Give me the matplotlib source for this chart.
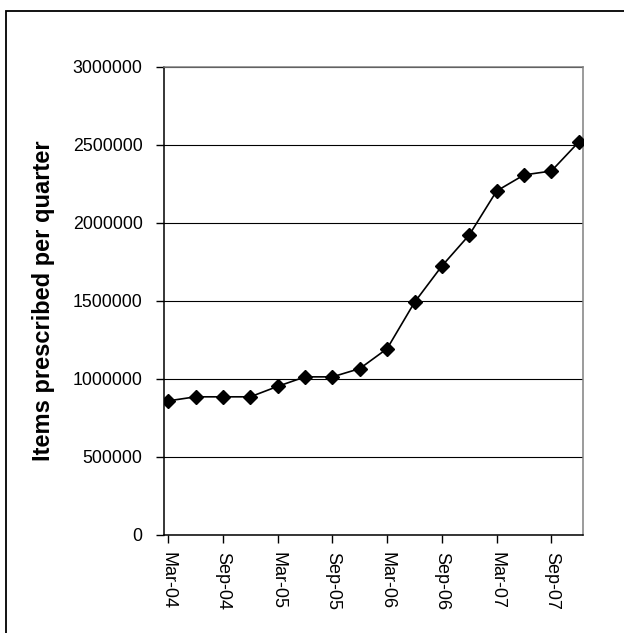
import matplotlib.pyplot as plt
from matplotlib.patches import Rectangle

plt.rcParams['font.family'] = ['Liberation Sans', 'DejaVu Sans']

quarters = ['Mar-04', 'Jun-04', 'Sep-04', 'Dec-04', 'Mar-05', 'Jun-05', 'Sep-05', 'Dec-05',
            'Mar-06', 'Jun-06', 'Sep-06', 'Dec-06', 'Mar-07', 'Jun-07', 'Sep-07', 'Dec-07']
items = [857000, 883000, 883000, 883000, 950000, 1011000, 1011000, 1064000,
         1192000, 1489000, 1722000, 1921000, 2203000, 2306000, 2331000, 2517000]
y_ticks = [0, 500000, 1000000, 1500000, 2000000, 2500000, 3000000]

fig = plt.figure(figsize=(6.24, 6.33), dpi=100)
ax = fig.add_axes([0.2636, 0.1556, 0.670, 0.739])

x = list(range(len(quarters)))
ax.plot(x, items, color='black', linewidth=1.2, marker='D', markersize=6.8,
        markerfacecolor='black', markeredgecolor='black', zorder=3)

ax.set_ylim(0, 3000000)
ax.set_xlim(-0.135, 15.14)
ax.set_yticks(y_ticks)
ax.set_yticklabels([str(v) for v in y_ticks], fontsize=12.8)
ax.set_xticks(x[::2])
ax.set_xticklabels(quarters[::2], rotation=270, fontsize=13, ha='center', va='top')

ax.tick_params(axis='y', length=5.8, width=1, pad=10, color='black')
ax.tick_params(axis='x', length=5.8, width=1, pad=7, color='black')

ax.yaxis.grid(True, color='black', linewidth=0.8)
ax.set_axisbelow(True)

ax.spines['left'].set_color('black')
ax.spines['bottom'].set_color('black')
ax.spines['top'].set_color('#808080')
ax.spines['right'].set_color('#808080')
for s in ax.spines.values():
    s.set_linewidth(1.1)

ax.set_ylabel('Items prescribed per quarter', fontsize=17, fontweight='bold')
ax.yaxis.set_label_coords(-0.262, 0.5)

# outer frame of the chart
fig.patches.append(Rectangle((6 / 624, -0.1), 1.2, (633 - 11) / 633 + 0.1,
                             transform=fig.transFigure, fill=False,
                             edgecolor='black', linewidth=1.3))

fig.savefig('out.png', dpi=100)
